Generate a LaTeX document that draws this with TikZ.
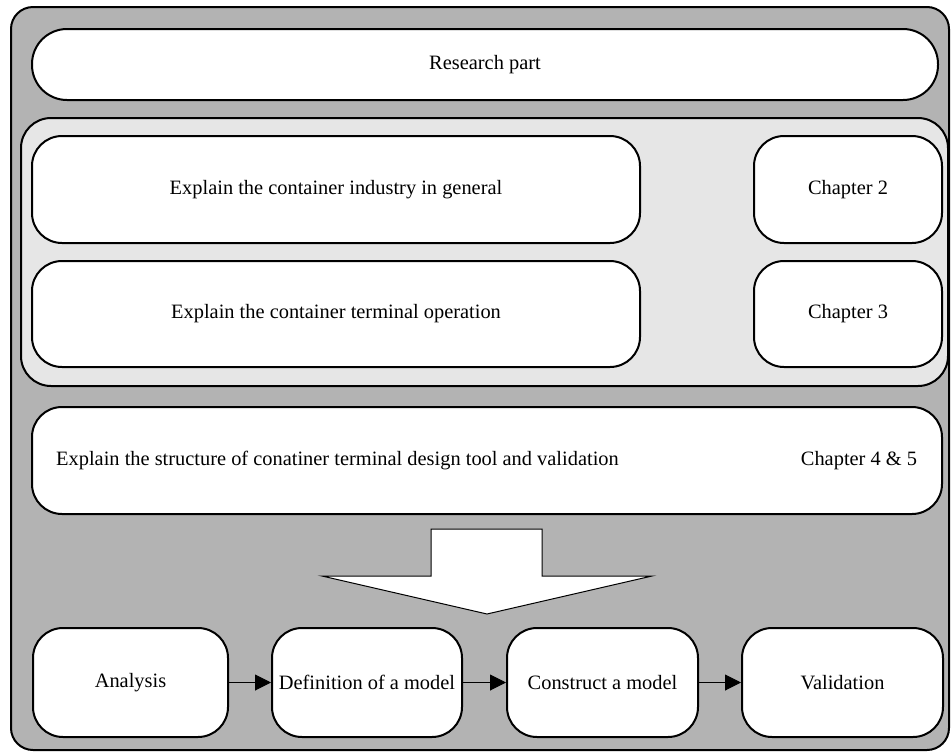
\documentclass[tikz,border=0pt]{standalone}
\usepackage{fontspec}
\setmainfont{Liberation Serif}
\usetikzlibrary{positioning,arrows.meta}

\definecolor{outergray}{RGB}{179,179,179}
\definecolor{panelgray}{RGB}{230,230,230}

\begin{document}
\begin{tikzpicture}[x=1pt,y=-1pt,
		box/.style={draw,line width=2pt,fill=white,rounded corners=30pt,inner sep=0pt,
			font=\fontsize{20.4}{24}\selectfont},
		flowarrow/.style={line width=1pt,-{Triangle[length=16pt,width=16pt]}}]
			
			\useasboundingbox (0,0) rectangle (951,753);
			\draw [line width=2pt,fill=outergray,rounded corners=22pt] (11,7) rectangle (949,750);
			
			\node [box,rounded corners=35pt,minimum width=906pt,minimum height=71pt] (research) at (485,64.5) {Research part};
			
			\draw [line width=2pt,fill=panelgray,rounded corners=30pt] (21,118) rectangle (948,386);
			\node [box,minimum width=608pt,minimum height=107pt] (industry) at (336,189.5) {Explain the container industry in general};
			\node [box,minimum width=188pt,minimum height=107pt] (chtwo) at (848,189.5) {Chapter 2};
			\node [box,minimum width=608pt,minimum height=106pt] (terminal) at (336,314) {Explain the container terminal operation};
			\node [box,minimum width=188pt,minimum height=106pt] (chthree) at (848,314) {Chapter 3};
			
			\node [box,minimum width=910pt,minimum height=107pt] (structure) at (487,460.5) {};
			\node [anchor=west,inner sep=0pt,font=\fontsize{20.4}{24}\selectfont,right=25pt of structure.west] (structuretxt) {Explain the structure of conatiner terminal design tool and validation};
			\node [inner sep=0pt,font=\fontsize{20.4}{24}\selectfont] (chfour) at (859,460.5) {Chapter 4 \& 5};
			
			\draw [line width=1pt,fill=white] (431,529) -- (542,529) -- (542,576) -- (652,576) -- (487,614) -- (322,576) -- (431,576) -- cycle;
			
			\node [box,minimum width=195pt,minimum height=109pt] (analysis) at (130.5,682.5) {Analysis};
			\node [box,minimum width=190pt,minimum height=109pt] (definition) at (367,682.5) {Definition of a model};
			\node [box,minimum width=191pt,minimum height=109pt] (construct) at (602.5,682.5) {Construct a model};
			\node [box,minimum width=201pt,minimum height=109pt] (validation) at (842.5,682.5) {Validation};
			
			\draw [flowarrow] (analysis) -- (definition);
			\draw [flowarrow] (definition) -- (construct);
			\draw [flowarrow] (construct) -- (validation);
		\end{tikzpicture}
\end{document}
